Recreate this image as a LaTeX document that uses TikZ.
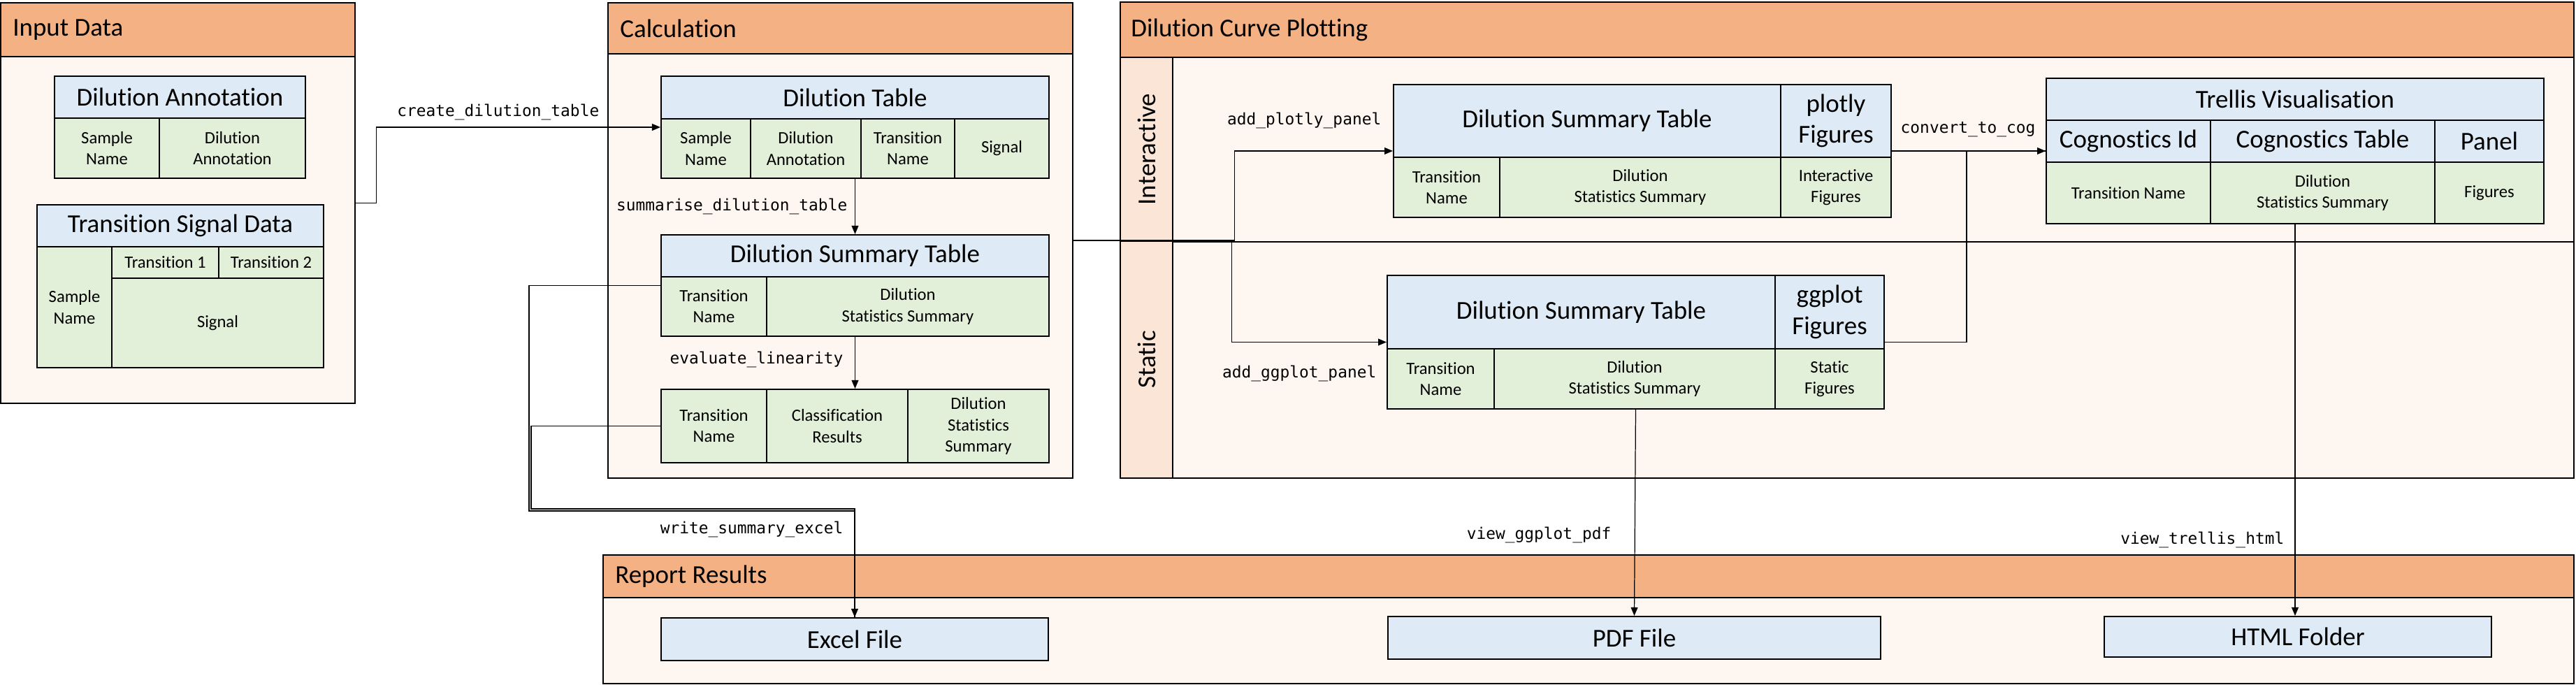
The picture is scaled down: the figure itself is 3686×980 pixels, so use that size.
\documentclass[tikz,border=0pt]{standalone}
\usepackage{fontspec}
\setmainfont{Carlito}[Ligatures=NoCommon]
\setmonofont{DejaVu Sans Mono}
\usetikzlibrary{positioning,arrows.meta}
\definecolor{secorange}{HTML}{F4B183}
\definecolor{secbody}{HTML}{FEF6F0}
\definecolor{lanefill}{HTML}{FBE5D6}
\definecolor{tblue}{HTML}{DEEBF7}
\definecolor{tgreen}{HTML}{E2F0D9}
% name, x1, y1, x2, y2, style, text
\newcommand{\tabcell}[7]{\node[#6,minimum width={(#4-#2)*0.01cm},minimum height={(#5-#3)*0.01cm}] (#1) at ({(#2+#4)/2},{(#3+#5)/2}) {#7};}
\begin{document}
\begin{tikzpicture}[x=0.01cm,y=-0.01cm,
  tabcellbase/.style={draw,line width=0.6pt,inner sep=1pt,align=center,font=\fontsize{7}{8.6}\selectfont},
  tabtitle/.style={tabcellbase,fill=tblue,font=\fontsize{10.5}{12.7}\selectfont},
  tabrow/.style={tabcellbase,fill=tgreen},
  tabframe/.style={draw,line width=0.6pt,inner sep=0pt},
  secbox/.style={draw,line width=0.75pt,fill=secbody,inner sep=0pt},
  sechead/.style={draw,line width=0.75pt,fill=secorange,inner sep=0pt},
  headtext/.style={font=\fontsize{10.5}{12.7}\selectfont,inner sep=0pt},
  lanebox/.style={draw,line width=0.6pt,fill=lanefill,inner sep=0pt},
  lanelabel/.style={rotate=90,font=\fontsize{10.5}{12.7}\selectfont},
  lanesep/.style={line width=0.6pt},
  link/.style={line width=0.35pt},
  linkarrow/.style={link,-{Triangle[length=3.4pt,width=2.8pt]}},
  funclabel/.style={font=\fontsize{6.5}{8}\selectfont\ttfamily,inner sep=0pt}]
\useasboundingbox (0,0) rectangle (3686,980);
% sections
\tabcell{inBox}{1}{4}{508}{577}{secbox}{}
\tabcell{inHead}{1}{4}{508}{81}{sechead}{}
\node[headtext,right=0.18cm of inHead.west] (inTitle) {Input Data};
\tabcell{calcBox}{870}{4}{1535}{684}{secbox}{}
\tabcell{calcHead}{870}{4}{1535}{77}{sechead}{}
\node[headtext,right=0.18cm of calcHead.west] (calcTitle) {Calculation};
\tabcell{plotBox}{1603}{3}{3683}{684}{secbox}{}
\tabcell{plotHead}{1603}{3}{3683}{82}{sechead}{}
\node[headtext,right=0.16cm of plotHead.west] (plotTitle) {Dilution Curve Plotting};
\tabcell{repBox}{863}{794}{3683}{978}{secbox}{}
\tabcell{repHead}{863}{794}{3683}{855}{sechead}{}
\node[headtext,right=0.18cm of repHead.west] (repTitle) {Report Results};
% lanes
\tabcell{laneInt}{1603}{82}{1678}{345}{lanebox}{}
\tabcell{laneSta}{1603}{345}{1678}{684}{lanebox}{}
\node[lanelabel] (intText) at (laneInt.center) {Interactive};
\node[lanelabel] (staText) at (laneSta.center) {Static};
\draw[lanesep] (laneInt.south east) -- (laneInt.south east -| plotBox.east);
% input data
\tabcell{daHead}{78}{109}{437}{169}{tabtitle}{Dilution Annotation}
\tabcell{daSample}{78}{169}{228}{255}{tabrow}{Sample\\Name}
\tabcell{daDil}{228}{169}{437}{255}{tabrow}{Dilution\\Annotation}
\tabcell{tsHead}{53}{293}{463}{353}{tabtitle}{Transition Signal Data}
\tabcell{tsSample}{53}{353}{160}{526}{tabrow}{Sample\\Name}
\tabcell{tsTr1}{160}{353}{313}{398}{tabrow}{Transition 1}
\tabcell{tsTr2}{313}{353}{463}{398}{tabrow}{Transition 2}
\tabcell{tsSignal}{160}{398}{463}{526}{tabrow}{Signal}
% calculation
\tabcell{dtHead}{946}{109}{1501}{170}{tabtitle}{Dilution Table}
\tabcell{dtSample}{946}{170}{1074}{255}{tabrow}{Sample\\Name}
\tabcell{dtDil}{1074}{170}{1232}{255}{tabrow}{Dilution\\Annotation}
\tabcell{dtTrans}{1232}{170}{1366}{255}{tabrow}{Transition\\Name}
\tabcell{dtSignal}{1366}{170}{1501}{255}{tabrow}{Signal}
\tabcell{dilTab}{946}{109}{1501}{255}{tabframe}{}
\tabcell{dsHead}{946}{336}{1501}{396}{tabtitle}{Dilution Summary Table}
\tabcell{dsTrans}{946}{396}{1097}{481}{tabrow}{Transition\\Name}
\tabcell{dsStats}{1097}{396}{1501}{481}{tabrow}{Dilution\\Statistics Summary}
\tabcell{dsTab}{946}{336}{1501}{481}{tabframe}{}
\tabcell{clTrans}{946}{557}{1097}{662}{tabrow}{Transition\\Name}
\tabcell{clRes}{1097}{557}{1299}{662}{tabrow}{Classification\\Results}
\tabcell{clStats}{1299}{557}{1501}{662}{tabrow}{Dilution\\Statistics\\Summary}
\tabcell{clTab}{946}{557}{1501}{662}{tabframe}{}
% plotting
\tabcell{plHead}{1994}{121}{2548}{225}{tabtitle}{Dilution Summary Table}
\tabcell{plFig}{2548}{121}{2706}{225}{tabtitle}{plotly\\Figures}
\tabcell{plTrans}{1994}{225}{2146}{311}{tabrow}{Transition\\Name}
\tabcell{plStats}{2146}{225}{2548}{311}{tabrow}{Dilution\\Statistics Summary}
\tabcell{plInter}{2548}{225}{2706}{311}{tabrow}{Interactive\\Figures}
\tabcell{plTab}{1994}{121}{2706}{311}{tabframe}{}
\tabcell{ggHead}{1985}{394}{2540}{499}{tabtitle}{Dilution Summary Table}
\tabcell{ggFig}{2540}{394}{2696}{499}{tabtitle}{ggplot\\Figures}
\tabcell{ggTrans}{1985}{499}{2138}{585}{tabrow}{Transition\\Name}
\tabcell{ggStats}{2138}{499}{2540}{585}{tabrow}{Dilution\\Statistics Summary}
\tabcell{ggStatic}{2540}{499}{2696}{585}{tabrow}{Static\\Figures}
\tabcell{ggTab}{1985}{394}{2696}{585}{tabframe}{}
\tabcell{trHead}{2928}{112}{3640}{172}{tabtitle}{Trellis Visualisation}
\tabcell{trId}{2928}{172}{3163}{232}{tabtitle}{Cognostics Id}
\tabcell{trCog}{3163}{172}{3484}{232}{tabtitle}{Cognostics Table}
\tabcell{trPanel}{3484}{172}{3640}{232}{tabtitle}{Panel}
\tabcell{trTrans}{2928}{232}{3163}{320}{tabrow}{Transition Name}
\tabcell{trStats}{3163}{232}{3484}{320}{tabrow}{Dilution\\Statistics Summary}
\tabcell{trFig}{3484}{232}{3640}{320}{tabrow}{Figures}
\tabcell{trTab}{2928}{112}{3640}{320}{tabframe}{}
% report
\tabcell{excel}{946}{884}{1500}{945}{tabtitle}{Excel File}
\tabcell{pdf}{1986}{882}{2691}{943}{tabtitle}{PDF File}
\tabcell{html}{3011}{882}{3565}{940}{tabtitle}{HTML Folder}
% connectors
\draw[linkarrow] (inBox.east) -- ++(29,0) |- (dilTab.west);
\draw[linkarrow] (dilTab.south) -- (dsTab.north);
\draw[linkarrow] (dsTab.south) -- (clTab.north);
\draw[linkarrow] (calcBox.east) -- ++(230,0) |- (plTab.west);
\draw[linkarrow] (calcBox.east) -- ++(226,0) |- (ggTab.west);
\draw[linkarrow] (plTab.east) -- (trTab.west);
\draw[link] (ggTab.east) -- ++(117,0) |- (trTab.west);
\draw[linkarrow] (ggTab.south) -- (pdf.north);
\draw[linkarrow] (trTab.south) -- (trTab.south |- html.north);
\draw[link] (clTab.west) -| (760,728) -| (excel.north);
\draw[linkarrow] (dsTab.west) -| (757,731) -| (excel.north);
% function labels
\node[funclabel,anchor=east] (lbCreate) at (858,160) {create\_dilution\_table};
\node[funclabel,anchor=east] (lbSummarise) at (1213,295) {summarise\_dilution\_table};
\node[funclabel,anchor=east] (lbLinear) at (1207,514) {evaluate\_linearity};
\node[funclabel,anchor=east] (lbPlotly) at (1977,172) {add\_plotly\_panel};
\node[funclabel,anchor=east] (lbGgplot) at (1970,534) {add\_ggplot\_panel};
\node[funclabel,anchor=west] (lbCog) at (2719,185) {convert\_to\_cog};
\node[funclabel,anchor=east] (lbExcel) at (1207,757) {write\_summary\_excel};
\node[funclabel,anchor=east] (lbPdf) at (2306,765) {view\_ggplot\_pdf};
\node[funclabel,anchor=east] (lbHtml) at (3269,772) {view\_trellis\_html};
\end{tikzpicture}
\end{document}
